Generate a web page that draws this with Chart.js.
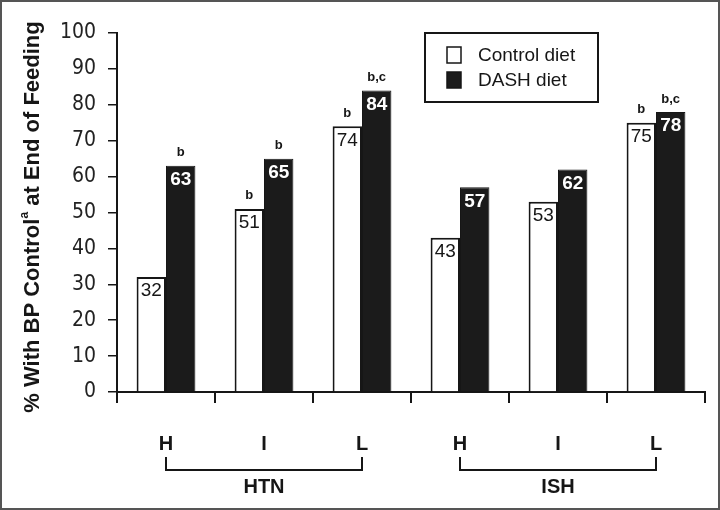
<!DOCTYPE html>
<html>
<head>
<meta charset="utf-8">
<script src="https://cdn.jsdelivr.net/npm/chart.js@4.4.1/dist/chart.umd.min.js"></script>
<style>
  html, body { margin: 0; padding: 0; background: #fff; }
  #wrap { width: 720px; height: 510px; }
</style>
</head>
<body>
<div id="wrap"><canvas id="bpChart" width="720" height="510"></canvas></div>
<script>
// sodium level within each group
var levels = ['H', 'I', 'L', 'H', 'I', 'L'];
var groups = ['HTN', 'ISH'];
var groupSpans = [[0, 2], [3, 5]];
var controlDiet = [32, 51, 74, 43, 53, 75];
var dashDiet = [63, 65, 84, 57, 62, 78];
// significance marks above the bars
var controlNotes = ['', 'b', 'b', '', '', 'b'];
var dashNotes = ['b', 'b', 'b,c', '', '', 'b,c'];
var yTicks = [0, 10, 20, 30, 40, 50, 60, 70, 80, 90, 100];

var FONT = '"Liberation Sans", Arial, Helvetica, sans-serif';
var NARROW = '"Liberation Sans Narrow", "DejaVu Sans Condensed", "Liberation Sans", Arial, sans-serif';
var INK = '#161616';

var extras = {
    id: 'extras',
    afterDatasetsDraw: function (chart) {
        var ctx = chart.ctx;
        ctx.save();
        ctx.textAlign = 'center';
        ctx.textBaseline = 'middle';
        chart.data.datasets.forEach(function (ds, di) {
            var meta = chart.getDatasetMeta(di);
            meta.data.forEach(function (bar, i) {
                // value inside bar
                ctx.font = (di === 1 ? 'bold ' : '') + '19px ' + FONT;
                ctx.fillStyle = di === 1 ? '#fff' : INK;
                ctx.fillText(String(ds.data[i]), bar.x, bar.y + 14);
                // note above bar
                var note = di === 1 ? dashNotes[i] : controlNotes[i];
                if (note) {
                    ctx.font = 'bold 13px ' + FONT;
                    ctx.fillStyle = INK;
                    ctx.fillText(note, bar.x, bar.y - 13);
                }
            });
        });
        ctx.restore();
    },
    afterDraw: function (chart) {
        var ctx = chart.ctx;
        var x = chart.scales.x;
        ctx.save();

        // brackets + group names
        ctx.strokeStyle = INK;
        ctx.lineWidth = 2;
        ctx.fillStyle = INK;
        ctx.font = 'bold 20px ' + FONT;
        ctx.textAlign = 'center';
        ctx.textBaseline = 'middle';
        groupSpans.forEach(function (span, g) {
            var x0 = x.getPixelForValue(span[0]);
            var x1 = x.getPixelForValue(span[1]);
            ctx.beginPath();
            ctx.moveTo(x0, 457);
            ctx.lineTo(x0, 470);
            ctx.lineTo(x1, 470);
            ctx.lineTo(x1, 457);
            ctx.stroke();
            ctx.fillText(groups[g], (x0 + x1) / 2, 487);
        });

        // legend box
        ctx.lineWidth = 2;
        ctx.strokeRect(425, 33, 173, 69);
        ctx.textAlign = 'left';
        ctx.font = '19px ' + FONT;
        chart.data.datasets.forEach(function (ds, i) {
            var yy = 55 + i * 25;
            ctx.fillStyle = ds.backgroundColor;
            ctx.fillRect(447, yy - 8, 14, 16);
            ctx.lineWidth = 1.5;
            ctx.strokeRect(447, yy - 8, 14, 16);
            ctx.fillStyle = INK;
            ctx.fillText(ds.label, 478, yy + 1);
        });

        // y title with superscript a
        ctx.translate(33, 217);
        ctx.rotate(-Math.PI / 2);
        var big = 'bold 22px ' + FONT, small = 'bold 12px ' + FONT;
        var p1 = '% With BP Control', p2 = 'a', p3 = ' at End of Feeding';
        ctx.font = big;
        var w1 = ctx.measureText(p1).width, w3 = ctx.measureText(p3).width;
        ctx.font = small;
        var w2 = ctx.measureText(p2).width;
        var sx = -(w1 + w2 + w3) / 2;
        ctx.font = big;
        ctx.fillText(p1, sx, 0);
        ctx.font = small;
        ctx.fillText(p2, sx + w1, -8);
        ctx.font = big;
        ctx.fillText(p3, sx + w1 + w2, 0);
        ctx.setTransform(1, 0, 0, 1, 0, 0);

        // outer frame
        ctx.strokeStyle = '#555';
        ctx.lineWidth = 2;
        ctx.strokeRect(1, 1, 718, 508);
        ctx.restore();
    }
};

var ctx = document.getElementById('bpChart').getContext('2d');
var bpChart = new Chart(ctx, {
    type: 'bar',
    data: {
        labels: levels,
        datasets: [{
            label: 'Control diet',
            data: controlDiet,
            backgroundColor: '#ffffff',
            borderColor: INK,
            borderWidth: 2
        }, {
            label: 'DASH diet',
            data: dashDiet,
            backgroundColor: '#1b1b1b',
            borderColor: INK,
            borderWidth: 1
        }]
    },
    options: {
        responsive: false,
        animation: false,
        devicePixelRatio: 1,
        categoryPercentage: 0.6,
        barPercentage: 1.0,
        layout: { padding: { top: 33, right: 15, left: 0, bottom: 0 } },
        plugins: {
            legend: { display: false },
            tooltip: { enabled: false }
        },
        scales: {
            x: {
                afterFit: function (s) { s.height = 118; },
                grid: {
                    offset: true,
                    drawOnChartArea: false,
                    tickLength: 11,
                    color: INK,
                    lineWidth: 2
                },
                border: { display: true, color: INK, width: 2 },
                ticks: {
                    padding: 29,
                    color: INK,
                    font: { family: FONT, size: 20, weight: 'bold' }
                }
            },
            y: {
                min: 0,
                max: 100,
                afterFit: function (s) { s.width = 117; },
                afterBuildTicks: function (s) {
                    s.ticks = yTicks.map(function (v) { return { value: v }; });
                },
                grid: {
                    drawOnChartArea: false,
                    tickLength: 9,
                    color: INK,
                    lineWidth: 1.5
                },
                border: { display: true, color: INK, width: 2 },
                ticks: {
                    padding: 12,
                    color: '#222',
                    font: { family: NARROW, size: 21 }
                }
            }
        }
    },
    plugins: [extras]
});
</script>
</body>
</html>
